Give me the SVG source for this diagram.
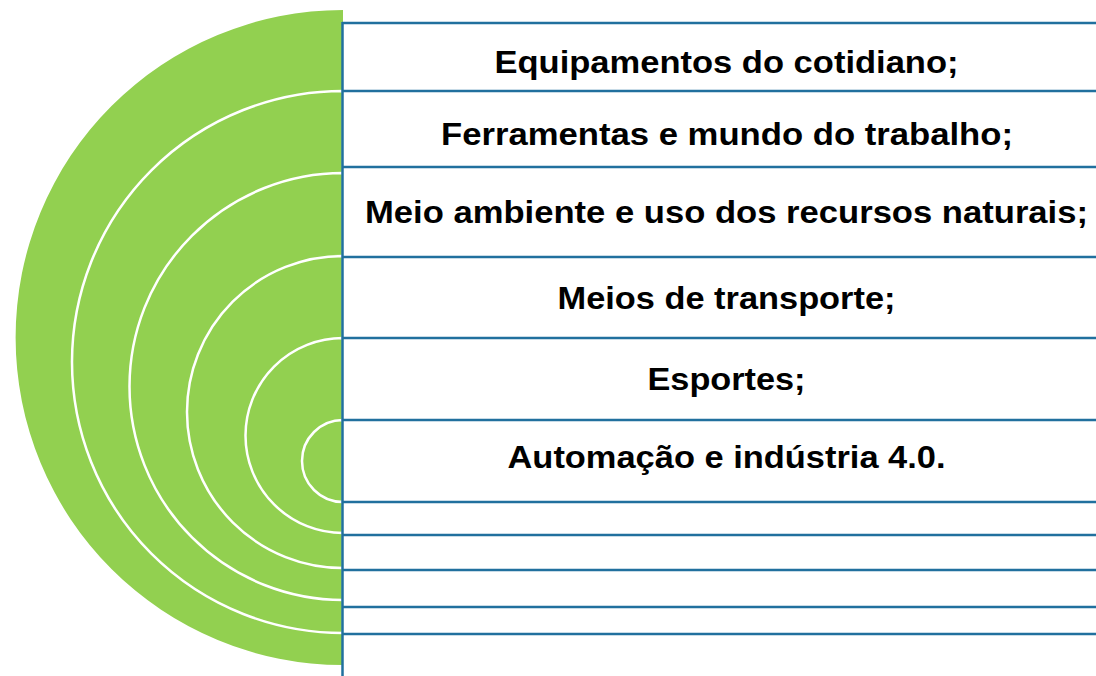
<svg xmlns="http://www.w3.org/2000/svg" width="1096" height="676" viewBox="0 0 1096 676">
<style>
.arc{fill:#92D050;stroke:#FFFFFF;stroke-width:2.5}
.ln{stroke:#21709E;stroke-width:2.5;fill:none}
.t{font-family:"Liberation Sans",Arial,sans-serif;font-weight:bold;font-size:31px;fill:#000;text-anchor:middle}
</style>
<rect width="1096" height="676" fill="#FFFFFF"/>
<g id="rings">
<path class="arc" d="M343,10 A327.5,327.5 0 0 0 343,665 Z" style="stroke:none"/>
<path class="arc" d="M343,91 A271,271 0 0 0 343,633 Z"/>
<path class="arc" d="M343,173 A213.5,213.5 0 0 0 343,600 Z"/>
<path class="arc" d="M343,256 A156,156 0 0 0 343,568 Z"/>
<path class="arc" d="M343,338 A97.5,97.5 0 0 0 343,533 Z"/>
<path class="arc" d="M343,420 A41,41 0 0 0 343,502 Z"/>
</g>
<g id="connectors">
<line class="ln" x1="342.5" y1="22" x2="342.5" y2="676"/>
<line class="ln" x1="342" y1="23" x2="1096" y2="23"/>
<line class="ln" x1="342" y1="91" x2="1096" y2="91"/>
<line class="ln" x1="342" y1="167" x2="1096" y2="167"/>
<line class="ln" x1="342" y1="257" x2="1096" y2="257"/>
<line class="ln" x1="342" y1="338" x2="1096" y2="338"/>
<line class="ln" x1="342" y1="420" x2="1096" y2="420"/>
<line class="ln" x1="342" y1="502" x2="1096" y2="502"/>
<line class="ln" x1="342" y1="535" x2="1096" y2="535"/>
<line class="ln" x1="342" y1="570" x2="1096" y2="570"/>
<line class="ln" x1="342" y1="607" x2="1096" y2="607"/>
<line class="ln" x1="342" y1="634" x2="1096" y2="634"/>
</g>
<g id="item1"><text class="t" x="726.5" y="73" textLength="464" lengthAdjust="spacingAndGlyphs">Equipamentos do cotidiano;</text></g>
<g id="item2"><text class="t" x="727" y="145" textLength="572" lengthAdjust="spacingAndGlyphs">Ferramentas e mundo do trabalho;</text></g>
<g id="item3"><text class="t" x="726.5" y="223" textLength="723" lengthAdjust="spacingAndGlyphs">Meio ambiente e uso dos recursos naturais;</text></g>
<g id="item4"><text class="t" x="726.5" y="309" textLength="338" lengthAdjust="spacingAndGlyphs">Meios de transporte;</text></g>
<g id="item5"><text class="t" x="726.5" y="390" textLength="158" lengthAdjust="spacingAndGlyphs">Esportes;</text></g>
<g id="item6"><text class="t" x="726.5" y="468" textLength="438" lengthAdjust="spacingAndGlyphs">Automação e indústria 4.0.</text></g>
</svg>
